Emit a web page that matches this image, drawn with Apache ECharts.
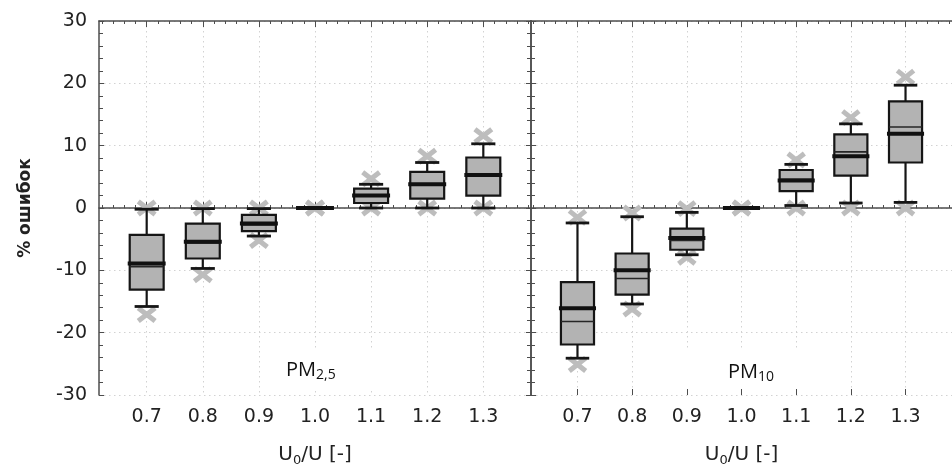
<!DOCTYPE html>
<html>
<head>
<meta charset="utf-8">
<script src="https://cdn.jsdelivr.net/npm/echarts@6/dist/echarts.min.js"></script>
<style>html,body{margin:0;padding:0;background:#fff}#c{width:952px;height:472px}</style>
</head>
<body>
<div id="c"></div>
<script>
// ---- data ----
const xLabels = ['0.7', '0.8', '0.9', '1.0', '1.1', '1.2', '1.3'];
const yMin = -30, yMax = 30, yStep = 10;

// PM2,5 panel
const pm25Min    = [-15.8, -9.7, -4.5, 0, 0,   0,   0];
const pm25Q1     = [-13.1, -8.1, -3.7, 0, 0.8, 1.5, 2.0];
const pm25Median = [-8.9,  -5.4, -2.5, 0, 2.0, 3.8, 5.3];
const pm25Q3     = [-4.3,  -2.5, -1.1, 0, 3.1, 5.8, 8.1];
const pm25Max    = [-0.2,  -0.1, -0.1, 0, 3.8, 7.3, 10.3];
const pm25Mean   = [-9.4,  -5.6, -2.7, 0, 2.1, 3.9, 5.3];
const pm25XLow   = [-17.1, -10.7, -5.2, 0, 0,  0,   0];
const pm25XHigh  = [0,     0,    0,    0, 4.7, 8.3, 11.6];

// PM10 panel
const pm10Min    = [-24.1, -15.4, -7.5, 0, 0.4, 0.8, 0.9];
const pm10Q1     = [-21.9, -13.9, -6.7, 0, 2.7, 5.2, 7.3];
const pm10Median = [-16.1, -10.0, -4.8, 0, 4.4, 8.3, 11.9];
const pm10Q3     = [-11.9, -7.3,  -3.3, 0, 6.1, 11.8, 17.1];
const pm10Max    = [-2.4,  -1.4,  -0.7, 0, 7.0, 13.5, 19.7];
const pm10Mean   = [-18.2, -11.3, -5.2, 0, 4.6, 9.0, 13.0];
const pm10XLow   = [-25.1, -16.2, -7.9, 0, 0,   0,   0];
const pm10XHigh  = [-1.5,  -0.8,  -0.1, 0, 7.7, 14.5, 21.0];

// ---- fine category axis: 20 slots per category step, 17 slots of margin ----
const SLOTS = 20, EDGE = 17;
const nSlots = (xLabels.length - 1) * SLOTS + 2 * EDGE + 1;
const labelSlot = i => EDGE + SLOTS * i;
const slotNames = [];
for (let k = 0; k < nSlots; k++) {
  const r = k - EDGE;
  if (r >= 0 && r % SLOTS === 0 && r / SLOTS < xLabels.length) slotNames.push(xLabels[r / SLOTS]);
  else slotNames.push('s' + k);
}
const isLabelSlot = (idx) => { const r = idx - EDGE; return r >= 0 && r % SLOTS === 0 && r / SLOTS < xLabels.length; };
const isMinorSlot = (idx) => (((idx - EDGE) % 4) + 4) % 4 === 0;

const FRAME = '#4d4d4d';
const GRIDC = '#d2d2d2';
const FONT = 'DejaVu Sans';

function xAxes(gi) {
  const base = {gridIndex: gi, type: 'category', data: slotNames, boundaryGap: false};
  const nameRich = {fontSize: 20, fontFamily: FONT, color: '#222',
    rich: {sub: {fontSize: 13, fontFamily: FONT, color: '#222', padding: [11, 0, 0, 0]}}};
  return [
    Object.assign({}, base, {
      position: 'bottom',
      axisLine: {show: true, lineStyle: {color: FRAME, width: 1.5}},
      axisTick: {show: true, inside: true, length: 3, interval: isMinorSlot, lineStyle: {color: FRAME}},
      axisLabel: {show: true, interval: isLabelSlot, margin: 13, fontSize: 19, fontFamily: FONT, color: '#222'},
      splitLine: {show: true, interval: isLabelSlot, lineStyle: {type: [1.5, 3.5], color: GRIDC}},
      name: 'U{sub|0}/U [-]', nameLocation: 'middle', nameGap: 48, nameTextStyle: nameRich
    }),
    Object.assign({}, base, {
      position: 'bottom', axisLine: {show: false},
      axisTick: {show: true, inside: true, length: 6, interval: isLabelSlot, lineStyle: {color: FRAME}},
      axisLabel: {show: false}, splitLine: {show: false}
    }),
    Object.assign({}, base, {
      position: 'top',
      axisLine: {show: true, lineStyle: {color: FRAME, width: 1.5}},
      axisTick: {show: true, inside: true, length: 3, interval: isMinorSlot, lineStyle: {color: FRAME}},
      axisLabel: {show: false}, splitLine: {show: false}
    }),
    Object.assign({}, base, {
      position: 'top', axisLine: {show: false},
      axisTick: {show: true, inside: true, length: 6, interval: isLabelSlot, lineStyle: {color: FRAME}},
      axisLabel: {show: false}, splitLine: {show: false}
    })
  ];
}

function yAxis(gi, position, labels, split) {
  const a = {
    gridIndex: gi, type: 'value', min: yMin, max: yMax, interval: yStep, position: position,
    axisLine: {show: true, lineStyle: {color: FRAME, width: 1.5}},
    axisTick: {show: true, inside: true, length: 5, lineStyle: {color: FRAME}},
    minorTick: {show: true, splitNumber: 5, length: 4, lineStyle: {color: FRAME}},
    axisLabel: {show: labels, margin: 12, fontSize: 19, fontFamily: FONT, color: '#222'},
    splitLine: {show: split, lineStyle: {type: [1.5, 3.5], color: GRIDC}}
  };
  if (labels) {
    a.name = '% ошибок';
    a.nameLocation = 'middle';
    a.nameRotate = 90;
    a.nameGap = 65;
    a.nameTextStyle = {fontSize: 17, fontWeight: 'bold', fontFamily: FONT, color: '#222'};
  }
  return a;
}

function buildData(mn, q1, md, q3, mx, mean, xl, xh) {
  return xLabels.map((_, i) => [labelSlot(i), mn[i], q1[i], md[i], q3[i], mx[i], mean[i], xl[i], xh[i]]);
}

function renderItem(params, api) {
  const xi = api.value(0);
  const v = k => api.value(k);
  const mn = v(1), q1 = v(2), md = v(3), q3 = v(4), mx = v(5), mean = v(6), xl = v(7), xh = v(8);
  const slot = api.size([1, 0])[0];
  const cx = api.coord([xi, 0])[0];
  const py = val => api.coord([xi, val])[1];
  const hb = slot * 6.05, hc = slot * 4.3, hxw = slot * 3.0, hxh = 6.5;
  const line = (x1, y1, x2, y2, w, c) => ({type: 'line', shape: {x1, y1, x2, y2}, style: {stroke: c, lineWidth: w}});
  const cross = y => [
    line(cx - hxw, y - hxh, cx + hxw, y + hxh, 5, '#bdbdbd'),
    line(cx - hxw, y + hxh, cx + hxw, y - hxh, 5, '#bdbdbd')
  ];
  const children = [].concat(
    cross(py(xh)), cross(py(xl)),
    [
      line(cx, py(mx), cx, py(mn), 2.2, '#151515'),
      line(cx - hc, py(mx), cx + hc, py(mx), 2.8, '#151515'),
      line(cx - hc, py(mn), cx + hc, py(mn), 2.8, '#151515'),
      {type: 'rect', shape: {x: cx - hb, y: py(q3), width: 2 * hb, height: py(q1) - py(q3)},
       style: {fill: '#b3b3b3', stroke: '#151515', lineWidth: 2.2}},
      line(cx - hb, py(mean), cx + hb, py(mean), 1.6, '#262626'),
      line(cx - hb - 2, py(md), cx + hb + 2, py(md), 4, '#111')
    ]
  );
  return {type: 'group', children};
}

const chart = echarts.init(document.getElementById('c'), null, {renderer: 'canvas'});
const subRich = {
  base: {fontSize: 20, fontFamily: 'Open Sans', fill: '#111'},
  sub: {fontSize: 14, fontFamily: 'Open Sans', fill: '#111', padding: [11, 0, 0, 0]}
};
chart.setOption({
  animation: false,
  backgroundColor: '#fff',
  grid: [
    {left: 99, top: 21, width: 432, height: 374},
    {left: 531, top: 21, width: 432, height: 374}
  ],
  xAxis: xAxes(0).concat(xAxes(1)),
  yAxis: [yAxis(0, 'left', true, true), yAxis(0, 'right', false, false), yAxis(1, 'left', false, true)],
  graphic: [
    {type: 'rect', left: 265, top: 351, z: 1, shape: {width: 120, height: 37}, style: {fill: '#fff'}},
    {type: 'rect', left: 686, top: 351, z: 1, shape: {width: 128, height: 37}, style: {fill: '#fff'}},
    {type: 'text', x: 286, y: 370, z: 5,
     style: {text: '{base|PM}{sub|2,5}', rich: subRich, verticalAlign: 'middle', align: 'left'}},
    {type: 'text', x: 728, y: 372, z: 5,
     style: {text: '{base|PM}{sub|10}', rich: subRich, verticalAlign: 'middle', align: 'left'}}
  ],
  series: [
    {type: 'custom', xAxisIndex: 0, yAxisIndex: 0, z: 3, renderItem: renderItem, clip: false,
     data: buildData(pm25Min, pm25Q1, pm25Median, pm25Q3, pm25Max, pm25Mean, pm25XLow, pm25XHigh)},
    {type: 'custom', xAxisIndex: 4, yAxisIndex: 2, z: 3, renderItem: renderItem, clip: false,
     data: buildData(pm10Min, pm10Q1, pm10Median, pm10Q3, pm10Max, pm10Mean, pm10XLow, pm10XHigh)}
  ]
});
</script>
</body>
</html>
